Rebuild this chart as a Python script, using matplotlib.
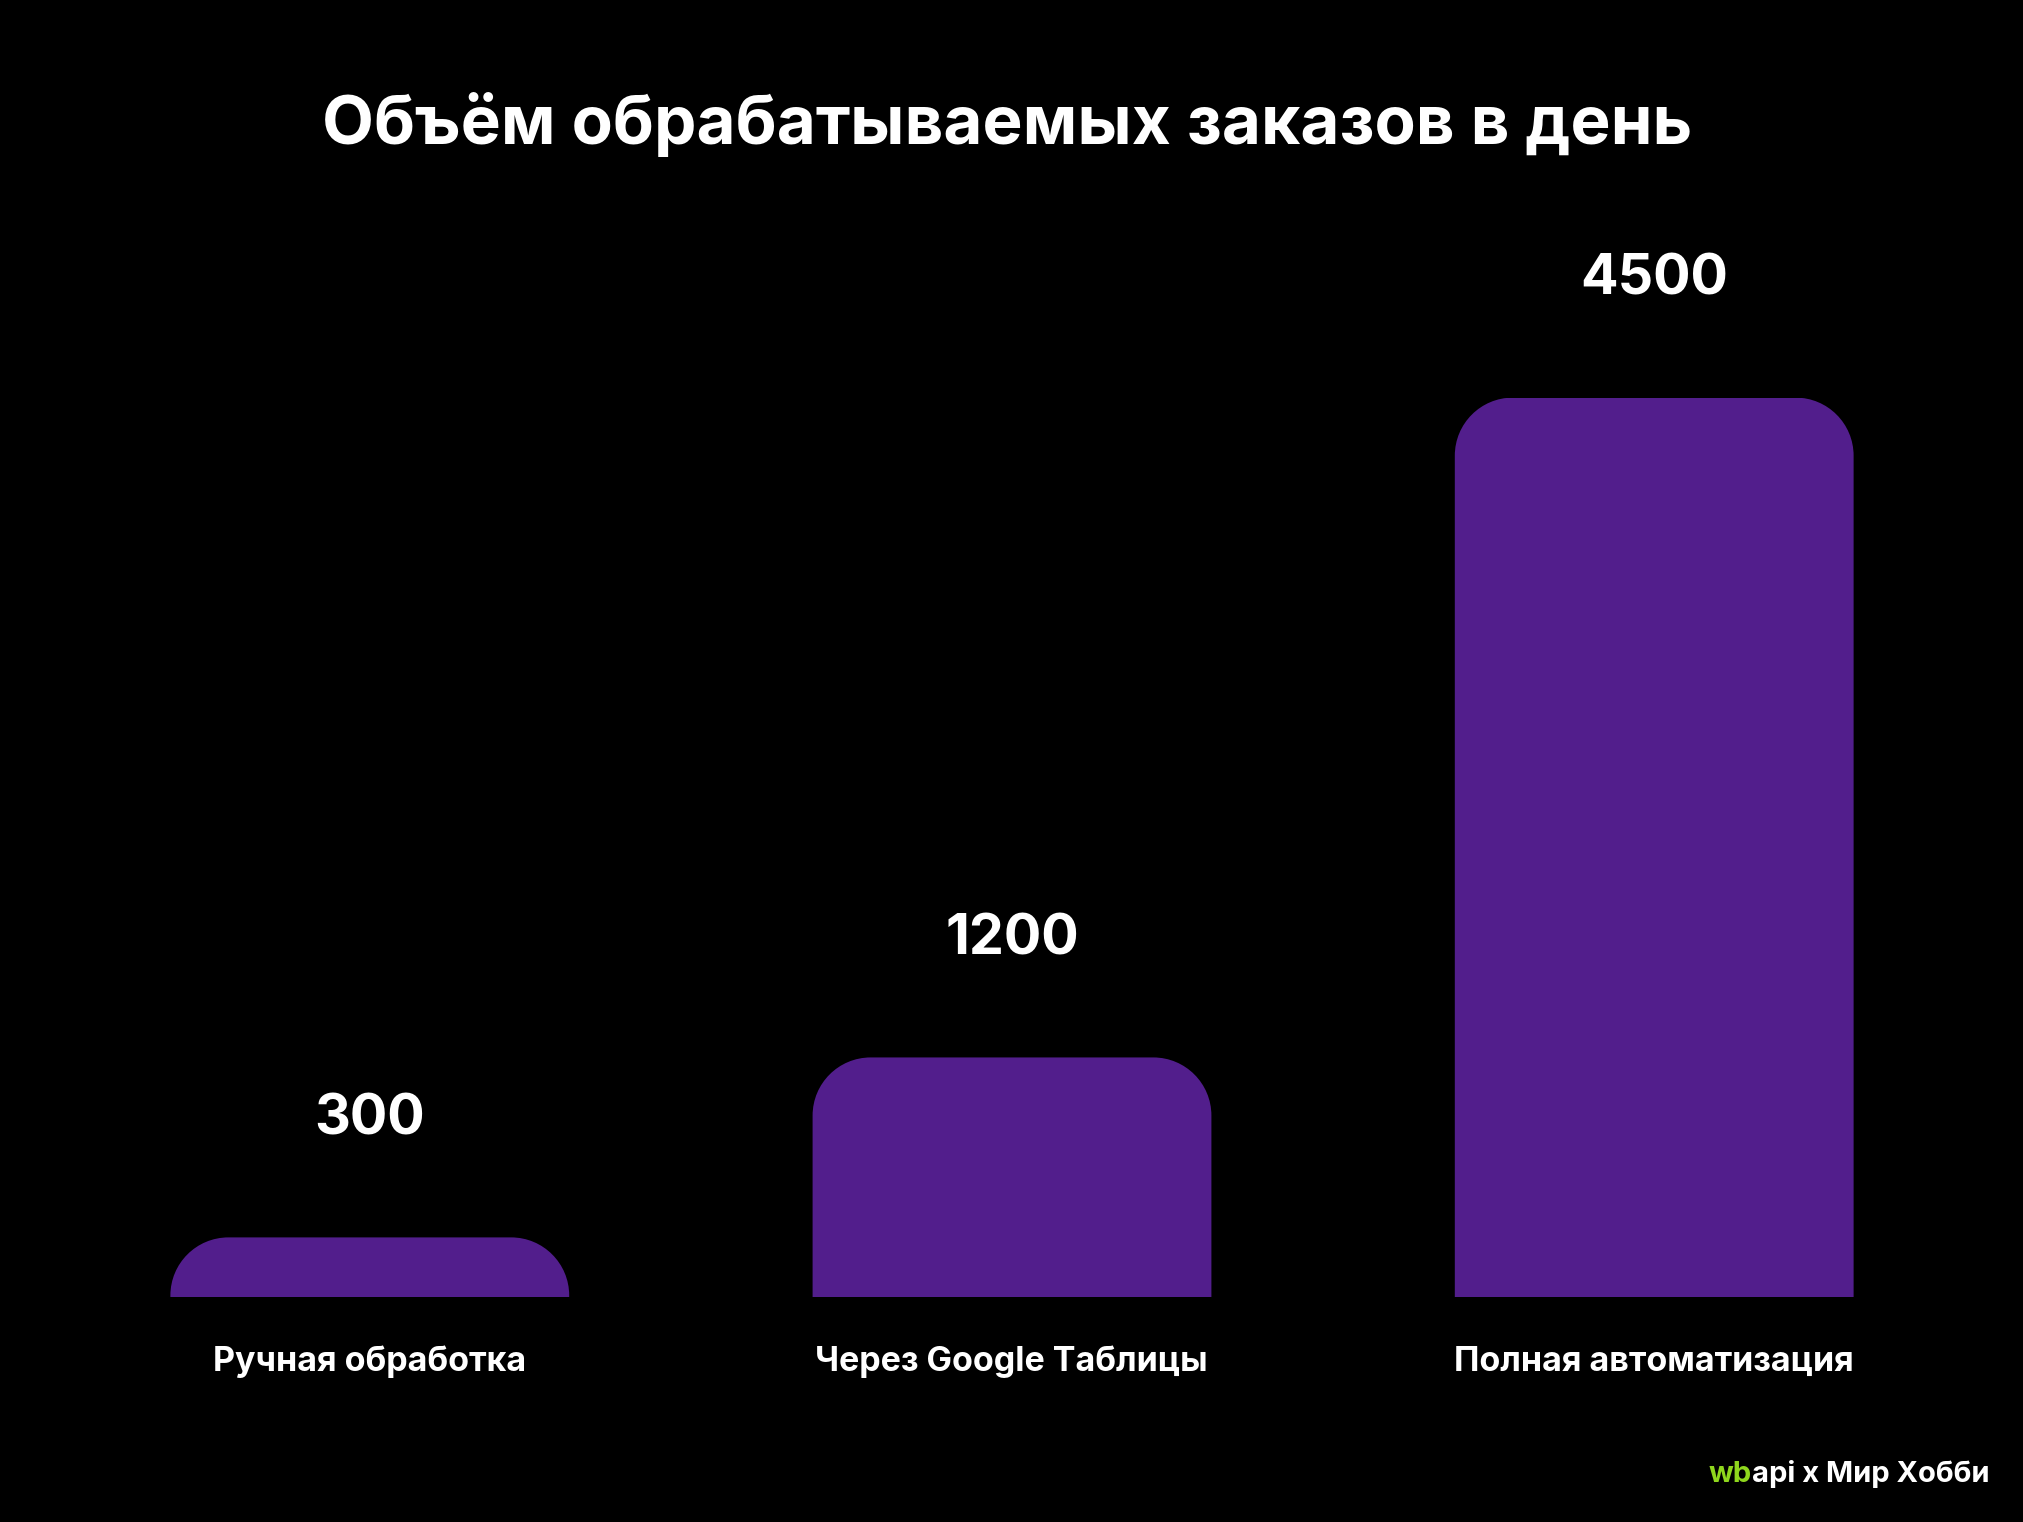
import matplotlib
matplotlib.use("Agg")
import matplotlib.pyplot as plt
from matplotlib.path import Path
from matplotlib.patches import PathPatch

categories = ["Ручная обработка", "Через Google Таблицы", "Полная автоматизация"]
values = [300, 1200, 4500]
title = "Объём обрабатываемых заказов в день"

W, H = 1568, 1179  # layout reference units
fig = plt.figure(figsize=(20.24, 15.22), dpi=100, facecolor="black")
ax = fig.add_axes([132/W, 1-1005/H, (1436-132)/W, 697/H])
ax.set_facecolor("black")
ax.set_xlim(-0.3105, 2.3105)
ax.set_ylim(0, 4500)
ax.axis("off")
FONT = "Inter"
color = "#521e8c"
bw = 0.621
bars = ax.bar(range(3), values, width=bw, color="none")
fig.canvas.draw()
px_per_x = (ax.bbox.width) / (ax.get_xlim()[1]-ax.get_xlim()[0])
px_per_y = ax.bbox.height / 4500
scale = fig.bbox.width / W
for b, v in zip(bars, values):
    x0 = b.get_x(); x1 = x0 + b.get_width(); h = b.get_height()
    rpx = min(45*scale, h*px_per_y)
    rx = rpx/px_per_x; ry = rpx/px_per_y
    k = 0.5523
    verts = [(x0,0),(x0,h-ry),(x0,h-ry+k*ry),(x0+rx-k*rx,h),(x0+rx,h),
             (x1-rx,h),(x1-rx+k*rx,h),(x1,h-ry+k*ry),(x1,h-ry),(x1,0),(x0,0)]
    codes = [Path.MOVETO,Path.LINETO,Path.CURVE4,Path.CURVE4,Path.CURVE4,
             Path.LINETO,Path.CURVE4,Path.CURVE4,Path.CURVE4,Path.LINETO,Path.CLOSEPOLY]
    ax.add_patch(PathPatch(Path(verts, codes), facecolor=color, edgecolor="none"))
    ax.annotate(f"{v}", (b.get_x()+bw/2, h), xytext=(0, 66), textcoords="offset points",
                ha="center", va="bottom", color="white", fontsize=40, fontweight="bold",
                family=FONT, annotation_clip=False)
for i, c in enumerate(categories):
    fig.text((286 + i*497.5)/W, 1-1055/H, c, ha="center", va="center", color="white",
             fontsize=24.5, fontweight="bold", family=FONT)
fig.text(780/W, 1-97/H, title, ha="center", va="center", color="white",
         fontsize=48.5, fontweight="bold", family=FONT)
t = fig.text(1541/W, 1-1142/H, "api x Мир Хобби", ha="right", va="center", color="white",
             fontsize=21, fontweight="bold", family=FONT)
fig.canvas.draw()
ext = t.get_window_extent()
fig.text(ext.x0/fig.bbox.width, 1-1142/H, "wb", ha="right", va="center", color="#8fd61d",
         fontsize=21, fontweight="bold", family=FONT)
fig.savefig("out.png", facecolor="black")
